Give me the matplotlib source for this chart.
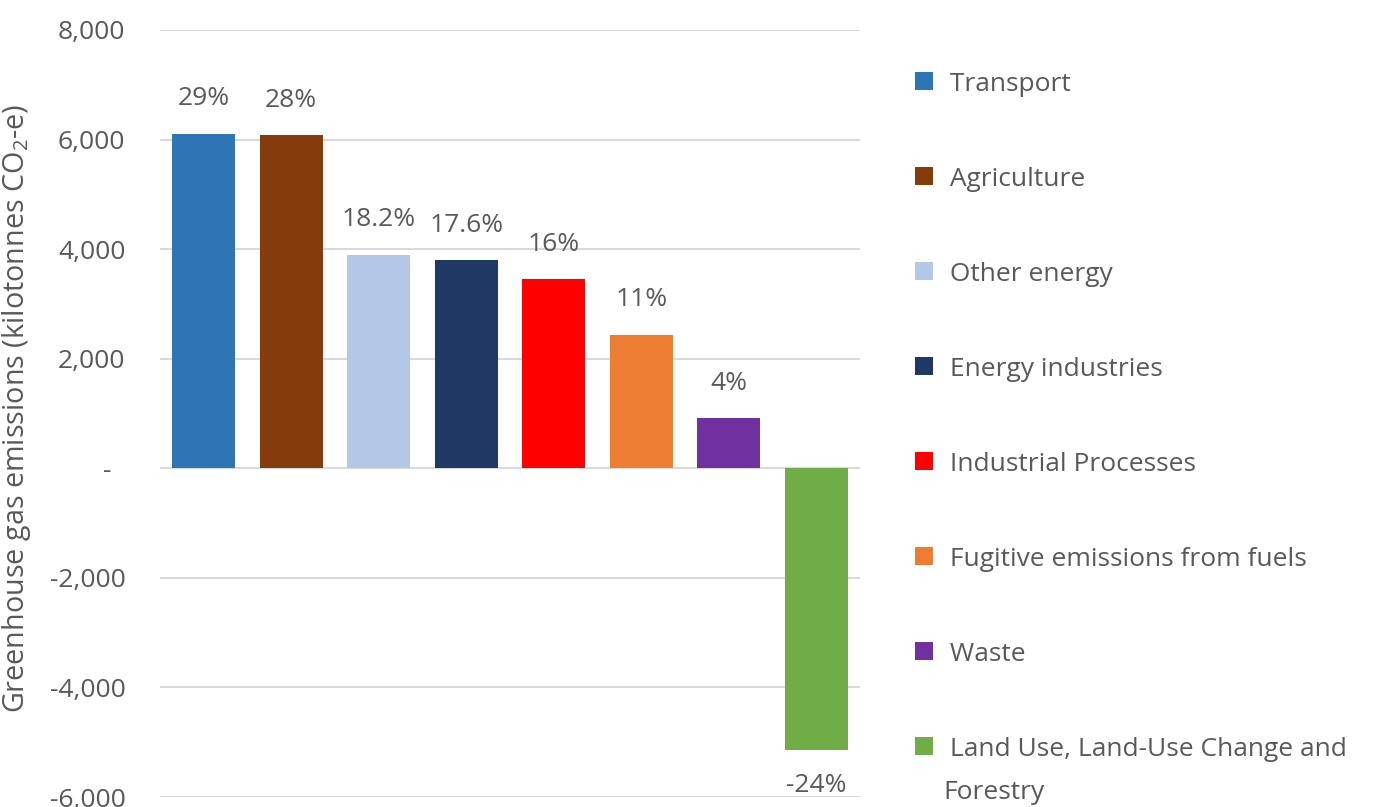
import matplotlib
matplotlib.use("Agg")
import matplotlib.pyplot as plt
from matplotlib.ticker import FuncFormatter

# sector emissions, kilotonnes CO2-e
sectors = ["Transport", "Agriculture", "Other energy", "Energy industries",
           "Industrial Processes", "Fugitive emissions from fuels", "Waste",
           "Land Use, Land-Use Change and\nForestry"]
emissions = [6110, 6080, 3900, 3800, 3450, 2440, 910, -5150]
shares = ["29%", "28%", "18.2%", "17.6%", "16%", "11%", "4%", "-24%"]
colours = ["#2E75B6", "#843C0C", "#B4C7E7", "#1F3864",
           "#FF0000", "#ED7D31", "#7030A0", "#70AD47"]
yticks = [-6000, -4000, -2000, 0, 2000, 4000, 6000, 8000]

plt.rcParams['font.family'] = ['Open Sans', 'DejaVu Sans']
plt.rcParams['mathtext.fontset'] = 'custom'
plt.rcParams['mathtext.rm'] = 'Open Sans'
grey = "#595959"

fig = plt.figure(figsize=(13.81, 8.07), dpi=100)
ax = fig.add_axes([160/1381, 1-797/807, 700/1381, 767/807])

x = range(len(sectors))
bars = ax.bar(x, emissions, width=0.72, color=colours,
              label=[" " + s for s in sectors], zorder=3)
ax.bar_label(bars, labels=shares, padding=16, fontsize=19, color=grey)

ax.set_xlim(-0.5, len(sectors) - 0.5)
ax.set_ylim(-6000, 8000)
ax.set_yticks(yticks)
ax.yaxis.set_major_formatter(FuncFormatter(
    lambda v, p: "-  " if v == 0 else f"{v:,.0f}"))
ax.tick_params(axis='y', length=0, pad=25, labelsize=19, labelcolor=grey)
ax.set_xticks([])
ax.grid(axis='y', color="#D9D9D9", linewidth=1.5, zorder=0)
for s in ax.spines.values():
    s.set_visible(False)

ax.set_ylabel(r"Greenhouse gas emissions (kilotonnes CO$_{2}$-e)",
              fontsize=20.7, color=grey)
ax.yaxis.set_label_coords(-0.181, 0.507)

leg = ax.legend(loc='upper left', bbox_to_anchor=(915/1381, 1-72/807),
                bbox_transform=fig.transFigure, frameon=False,
                fontsize=19, labelcolor=grey, handlelength=0.68,
                handleheight=0.7, handletextpad=0.38, labelspacing=2.65,
                borderpad=0, borderaxespad=0)
for t in leg.get_texts():
    t.set_linespacing(1.95)
# keep the marker level with the first line of a wrapped label
for col in leg._legend_handle_box.get_children():
    for row in col.get_children():
        row.align = "top"

fig.savefig("out.png", dpi=100)
